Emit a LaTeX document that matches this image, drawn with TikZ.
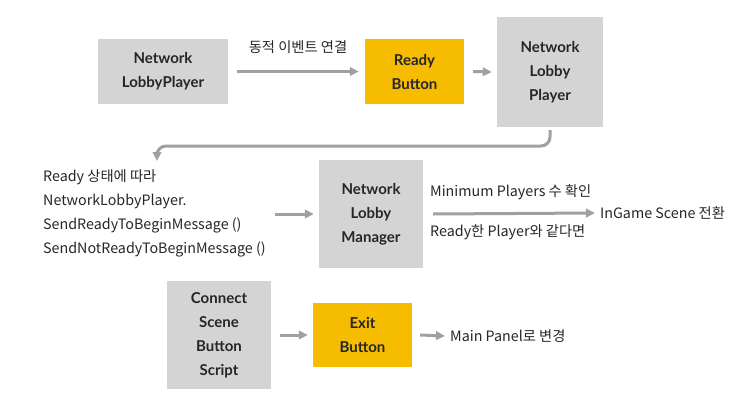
\documentclass[tikz,border=0pt]{standalone}
\usepackage{fontspec}
\setmainfont{Noto Sans CJK KR}
\newfontfamily\boxfont{Lato}
\usetikzlibrary{arrows.meta}
\definecolor{boxgray}{HTML}{D4D4D4}
\definecolor{boxyellow}{HTML}{F5BC00}
\definecolor{arrgray}{HTML}{A0A0A0}
\definecolor{txt}{HTML}{262626}
\tikzset{
  box/.style={inner sep=0pt, align=center, text=txt,
    font=\boxfont\bfseries\fontsize{15}{24}\selectfont},
  gbox/.style={box, fill=boxgray},
  ybox/.style={box, fill=boxyellow},
  lbl/.style={inner sep=0pt, text=txt, font=\fontsize{14.3}{24}\selectfont},
  arr/.style={draw=arrgray, line width=3pt, -{Triangle[length=9pt,width=8.5pt]}},
}
\begin{document}
\begin{tikzpicture}[x=1pt,y=-1pt]
\useasboundingbox (0,0) rectangle (750,415);
% row 1
\node[gbox, minimum width=130, minimum height=65] (nlp1) at (163,71.5) {Network\\LobbyPlayer};
\node[ybox, minimum width=99, minimum height=65] (rb) at (414.5,71.5) {Ready\\Button};
\node[gbox, minimum width=106, minimum height=110] (nlp2) at (550,72) {Network\\Lobby\\Player};
\draw[arr] ([xshift=9]nlp1.east) -- node[lbl, above=16pt] (l1) {동적 이벤트 연결} ([xshift=-6]rb.west);
\draw[arr] ([xshift=9]rb.east) -- ([xshift=-5]nlp2.west);
% row 2
\node[lbl, anchor=west, align=left] (desc) at (43,213) {Ready 상태에 따라\\NetworkLobbyPlayer.\\SendReadyToBeginMessage ()\\SendNotReadyToBeginMessage ()};
\node[gbox, minimum width=104, minimum height=108] (mgr) at (371,214) {Network\\Lobby\\Manager};
\coordinate (dtip) at (157,161);
\draw[arr, rounded corners=9pt] ([yshift=-3]nlp2.south) |- (dtip |- 0,146) -- (dtip);
\draw[arr] ([xshift=9]desc.east |- mgr.west) -- ([xshift=-5]mgr.west);
\node[lbl, anchor=west] (ig) at (600,213) {InGame Scene 전환};
\draw[arr] ([xshift=10]mgr.east) -- ([xshift=-5]ig.west);
\node[lbl, anchor=west] (mp) at (430,192) {Minimum Players 수 확인};
\node[lbl, anchor=west] (rp) at (430,232) {Ready한 Player와 같다면};
% row 3
\node[gbox, minimum width=104, minimum height=108] (cb) at (219,335) {Connect\\Scene\\Button\\Script};
\node[ybox, minimum width=99, minimum height=64] (eb) at (362.5,335) {Exit\\Button};
\node[lbl, anchor=west] (mpn) at (450,336) {Main Panel로 변경};
\draw[arr] ([xshift=9]cb.east) -- ([xshift=-5]eb.west);
\draw[arr] ([xshift=8]eb.east) -- ([xshift=-5]mpn.west);
\end{tikzpicture}
\end{document}
